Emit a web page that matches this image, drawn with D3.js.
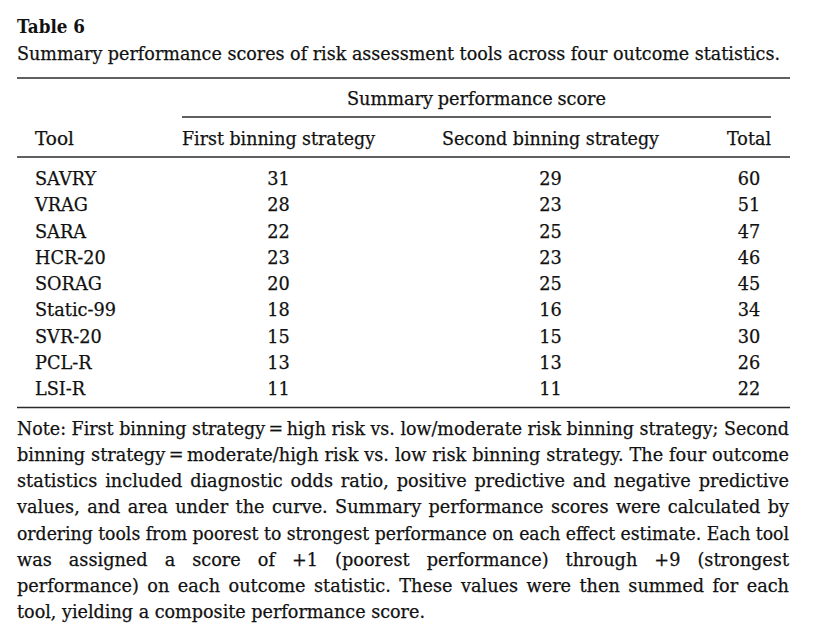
<!DOCTYPE html>
<html><head><meta charset="utf-8">
<script src="https://cdn.jsdelivr.net/npm/d3@7"></script>
<style>html,body{margin:0;padding:0;background:#fff;}svg{display:block;}</style>
</head><body>
<script>
const tableTitle = "Table 6";
const tableCaption = "Summary performance scores of risk assessment tools across four outcome statistics.";
const spannerLabel = "Summary performance score";
const columnLabels = ["Tool", "First binning strategy", "Second binning strategy", "Total"];
const tools = ["SAVRY", "VRAG", "SARA", "HCR-20", "SORAG", "Static-99", "SVR-20", "PCL-R", "LSI-R"];
const firstBinning = [31, 28, 22, 23, 20, 18, 15, 13, 11];
const secondBinning = [29, 23, 25, 23, 25, 16, 15, 13, 11];
const totals = [60, 51, 47, 46, 45, 34, 30, 26, 22];
const noteLines = [
  "Note: First binning strategy\u2009=\u2009high risk vs. low/moderate risk binning strategy; Second",
  "binning strategy\u2009=\u2009moderate/high risk vs. low risk binning strategy. The four outcome",
  "statistics included diagnostic odds ratio, positive predictive and negative predictive",
  "values, and area under the curve. Summary performance scores were calculated by",
  "ordering tools from poorest to strongest performance on each effect estimate. Each tool",
  "was assigned a score of +1 (poorest performance) through +9 (strongest",
  "performance) on each outcome statistic. These values were then summed for each",
  "tool, yielding a composite performance score."
];

const W = 820, H = 644;
const FONT = "'DejaVu Serif', serif";
const FS = 17.7;
const INK = "#111";
const RULE = "#2b2b2b";

const svg = d3.select("body").append("svg").attr("width", W).attr("height", H);
svg.append("rect").attr("width", W).attr("height", H).attr("fill", "#fff");

const g = svg.append("g").attr("font-family", FONT).attr("font-size", FS)
  .attr("fill", INK).attr("stroke", INK).attr("stroke-width", 0.25);

// fit helper: adjust word spacing to reach target width
function fit(sel, target) {
  sel.each(function() {
    const t = d3.select(this);
    const w = this.getComputedTextLength();
    const txt = t.text();
    const spaces = (txt.match(/ /g) || []).length;
    if (spaces > 0 && w < target + 2) t.attr("word-spacing", (target - w) / spaces);
    else t.attr("textLength", target).attr("lengthAdjust", "spacingAndGlyphs");
  });
}

const L = 17, R = 790;

// Title and caption
g.append("text").attr("x", L).attr("y", 33)
  .attr("font-weight", "bold").attr("stroke-width", 0).text(tableTitle)
  .attr("textLength", 68).attr("lengthAdjust", "spacingAndGlyphs");
g.append("text").attr("x", L).attr("y", 60).text(tableCaption).call(fit, 763);

// Column scale (centres) and row scale
const colKeys = ["tool", "first", "second", "total"];
const colX = d3.scaleOrdinal().domain(colKeys).range([35, 278.5, 550.5, 749]);
const colAnchor = d3.scaleOrdinal().domain(colKeys).range(["start", "middle", "middle", "middle"]);
const colWidth = d3.scaleOrdinal().domain(colKeys).range([39, 193, 217, 44]);
const y = d3.scalePoint().domain(tools).range([185, 395]);

// Rules
const rules = [
  {x1: L, x2: R, y: 78},
  {x1: 182, x2: 771, y: 117},
  {x1: L, x2: R, y: 157},
  {x1: L, x2: R, y: 407.5}
];
svg.selectAll("line.rule").data(rules).join("line").attr("class", "rule")
  .attr("x1", d => d.x1).attr("x2", d => d.x2).attr("y1", d => d.y).attr("y2", d => d.y)
  .attr("stroke", RULE).attr("stroke-width", 1.4);

// Spanner header
g.append("text").attr("x", 476.5).attr("y", 105).attr("text-anchor", "middle")
  .text(spannerLabel).call(fit, 259);

// Column headers
g.selectAll("text.colhead").data(colKeys.map((k, i) => ({k, label: columnLabels[i]})))
  .join("text").attr("class", "colhead")
  .attr("x", d => colX(d.k)).attr("y", 145).attr("text-anchor", d => colAnchor(d.k))
  .text(d => d.label)
  .each(function(d) { d3.select(this).call(fit, colWidth(d.k)); });

// Body rows
const rows = tools.map((t, i) => ({tool: t, first: firstBinning[i], second: secondBinning[i], total: totals[i]}));
const cells = rows.flatMap(r => colKeys.map(k => ({k, row: r.tool, v: r[k]})));
g.selectAll("text.cell").data(cells).join("text").attr("class", "cell")
  .attr("x", d => colX(d.k)).attr("y", d => y(d.row)).attr("text-anchor", d => colAnchor(d.k))
  .text(d => d.v);

// Note
const noteY = d3.scaleLinear().domain([0, noteLines.length - 1]).range([435, 618]);
g.selectAll("text.note").data(noteLines).join("text").attr("class", "note")
  .attr("x", L).attr("y", (d, i) => noteY(i))
  .text(d => d)
  .each(function(d, i) { d3.select(this).call(fit, i < noteLines.length - 1 ? 772 : 408); });
</script>
</body></html>
